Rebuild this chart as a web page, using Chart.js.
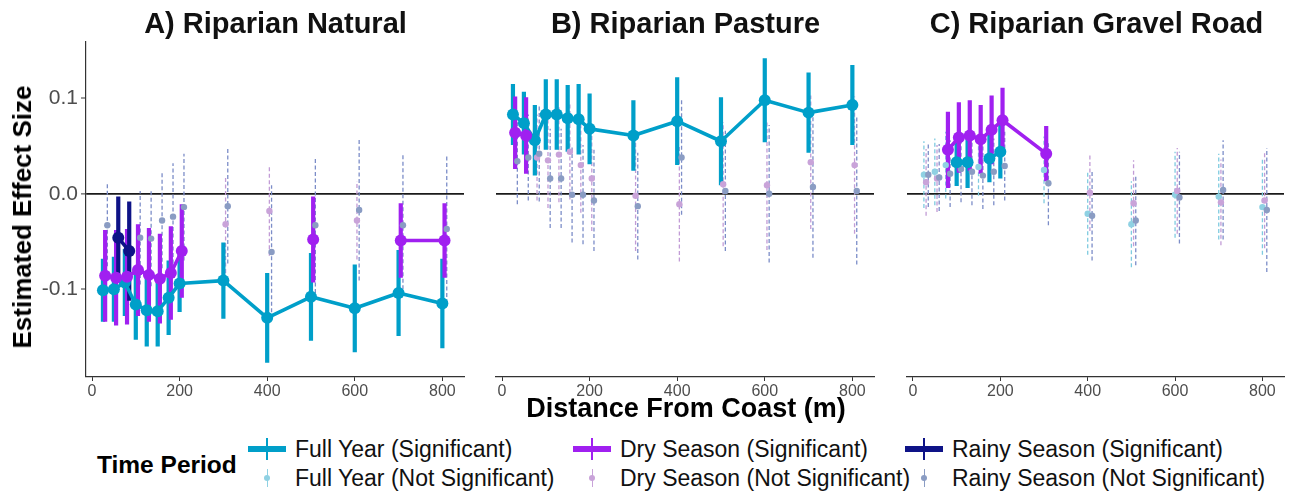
<!DOCTYPE html>
<html>
<head>
<meta charset="utf-8">
<script src="https://cdn.jsdelivr.net/npm/chart.js@4.4.1/dist/chart.umd.min.js"></script>
<style>
  html, body { margin:0; padding:0; background:#fff; }
  #wrap { position:relative; width:1290px; height:493px; background:#fff; overflow:hidden;
          font-family:'Liberation Sans', Arial, Helvetica, sans-serif; color:#000; }
  .cw { position:absolute; top:0; }
  .ptitle { position:absolute; top:9px; font-weight:bold; font-size:29px; line-height:29px; text-align:center; white-space:nowrap; color:#111; }
  #ylab { position:absolute; left:22px; top:217px; transform:translate(-50%,-50%) rotate(-90deg); font-weight:bold; font-size:26px; line-height:26px; white-space:nowrap; color:#000; }
  #xlab { position:absolute; left:386px; width:600px; top:395px; text-align:center; font-weight:bold; font-size:27px; line-height:27px; white-space:nowrap; color:#000; }
  #ltitle { position:absolute; left:97px; top:453px; font-weight:bold; font-size:24.5px; line-height:24px; white-space:nowrap; }
  .ltxt { position:absolute; font-size:23px; line-height:24px; white-space:nowrap; color:#111; }
  .lkey { position:absolute; width:38px; height:22px; }
  .lkey .h { position:absolute; left:0; width:38px; top:8px; height:5.5px; }
  .lkey .v { position:absolute; left:18.2px; width:1.6px; top:0; height:22px; }
  .lkey .d { position:absolute; border-radius:50%; }
</style>
</head>
<body>
<div id="wrap">
  <div class="cw" style="left:0;width:470px;height:400px"><canvas id="cA" width="470" height="400"></canvas></div>
  <div class="cw" style="left:470px;width:410px;height:400px"><canvas id="cB" width="410" height="400"></canvas></div>
  <div class="cw" style="left:880px;width:410px;height:400px"><canvas id="cC" width="410" height="400"></canvas></div>
  <div class="ptitle" style="left:86px;width:379px">A) Riparian Natural</div>
  <div class="ptitle" style="left:496px;width:379px">B) Riparian Pasture</div>
  <div class="ptitle" style="left:907px;width:379px">C) Riparian Gravel Road</div>
  <div id="ylab">Estimated Effect Size</div>
  <div id="xlab">Distance From Coast (m)</div>
  <div id="ltitle">Time Period</div>
  <div id="legend"></div>
</div>
<script>
// ---------------- data ----------------
const distances = [25, 50, 75, 100, 125, 150, 175, 200, 300, 400, 500, 600, 700, 800];
const xTicks = [0, 200, 400, 600, 800];
const yTicks = [-0.1, 0.0, 0.1];
const panelTitles = ["A) Riparian Natural", "B) Riparian Pasture", "C) Riparian Gravel Road"];
const periodLabels = ["Full Year", "Dry Season", "Rainy Season"];

// A) Riparian Natural
const natFullEst = [-0.101, -0.100, -0.093, -0.116, -0.122, -0.123, -0.109, -0.094, -0.091, -0.130, -0.108, -0.120, -0.104, -0.115];
const natFullCI  = [0.033, 0.034, 0.035, 0.037, 0.038, 0.037, 0.039, 0.030, 0.040, 0.047, 0.046, 0.046, 0.045, 0.047];
const natFullSig = [1, 1, 1, 1, 1, 1, 1, 1, 1, 1, 1, 1, 1, 1];
const natDryEst  = [-0.086, -0.088, -0.087, -0.080, -0.085, -0.089, -0.083, -0.060, -0.032, -0.018, -0.048, -0.028, -0.049, -0.049];
const natDryCI   = [0.048, 0.050, 0.050, 0.048, 0.049, 0.047, 0.049, 0.049, 0.051, 0.047, 0.045, 0.041, 0.039, 0.039];
const natDrySig  = [1, 1, 1, 1, 1, 1, 1, 1, 0, 0, 1, 0, 1, 1];
const natRainEst = [-0.033, -0.046, -0.060, -0.046, -0.047, -0.028, -0.024, -0.014, -0.013, -0.061, -0.033, -0.017, -0.033, -0.037];
const natRainCI  = [0.043, 0.043, 0.052, 0.049, 0.050, 0.050, 0.056, 0.056, 0.060, 0.070, 0.071, 0.074, 0.074, 0.078];
const natRainSig = [0, 1, 1, 0, 0, 0, 0, 0, 0, 0, 0, 0, 0, 0];

// B) Riparian Pasture
const pasFullEst = [0.083, 0.074, 0.056, 0.083, 0.083, 0.079, 0.078, 0.068, 0.061, 0.076, 0.055, 0.098, 0.085, 0.093];
const pasFullCI  = [0.032, 0.033, 0.037, 0.037, 0.037, 0.035, 0.037, 0.037, 0.037, 0.046, 0.046, 0.044, 0.042, 0.042];
const pasFullSig = [1, 1, 1, 1, 1, 1, 1, 1, 1, 1, 1, 1, 1, 1];
const pasDryEst  = [0.064, 0.061, 0.038, 0.035, 0.041, 0.044, 0.030, 0.016, -0.002, -0.011, 0.010, 0.009, 0.033, 0.030];
const pasDryCI   = [0.038, 0.040, 0.045, 0.050, 0.050, 0.050, 0.050, 0.055, 0.058, 0.060, 0.065, 0.068, 0.070, 0.072];
const pasDrySig  = [1, 1, 0, 0, 0, 0, 0, 0, 0, 0, 0, 0, 0, 0];
const pasRainEst = [0.034, 0.038, 0.042, 0.016, 0.016, -0.001, -0.001, -0.007, -0.013, 0.038, 0.003, 0.000, 0.007, 0.003];
const pasRainCI  = [0.045, 0.045, 0.050, 0.052, 0.052, 0.050, 0.052, 0.053, 0.056, 0.060, 0.063, 0.072, 0.074, 0.077];
const pasRainSig = [0, 0, 0, 0, 0, 0, 0, 0, 0, 0, 0, 0, 0, 0];

// C) Riparian Gravel Road
const grvFullEst = [0.020, 0.023, 0.030, 0.033, 0.033, 0.028, 0.037, 0.044, 0.025, -0.021, -0.032, -0.001, -0.003, -0.014];
const grvFullCI  = [0.035, 0.035, 0.035, 0.025, 0.027, 0.030, 0.025, 0.028, 0.035, 0.043, 0.045, 0.045, 0.045, 0.050];
const grvFullSig = [0, 0, 0, 1, 1, 0, 1, 1, 0, 0, 0, 0, 0, 0];
const grvDryEst  = [0.012, 0.016, 0.046, 0.059, 0.061, 0.057, 0.067, 0.077, 0.042, 0.001, -0.010, 0.003, -0.009, -0.007];
const grvDryCI   = [0.035, 0.035, 0.040, 0.037, 0.037, 0.036, 0.036, 0.034, 0.029, 0.040, 0.045, 0.045, 0.045, 0.050];
const grvDrySig  = [0, 0, 1, 1, 1, 1, 1, 1, 1, 0, 0, 0, 0, 0];
const grvRainEst = [0.020, 0.017, 0.021, 0.026, 0.023, 0.019, 0.023, 0.029, 0.011, -0.023, -0.028, -0.004, 0.004, -0.017];
const grvRainCI  = [0.034, 0.035, 0.035, 0.035, 0.035, 0.035, 0.035, 0.036, 0.044, 0.047, 0.047, 0.048, 0.052, 0.065];
const grvRainSig = [0, 0, 0, 0, 0, 0, 0, 0, 0, 0, 0, 0, 0, 0];

// ---------------- styling ----------------
const FONT = "'Liberation Sans', Arial, Helvetica, sans-serif";
const styles = [
  { sig: '#009FC9', nsDot: '#8FD1E3', nsDash: '#7FCBE0', dodge: 0 },
  { sig: '#A020F0', nsDot: '#C9A3D9', nsDash: '#C29CD6', dodge: 5 },
  { sig: '#0E1387', nsDot: '#8A9CC3', nsDash: '#7C8DC8', dodge: 10 }
];

function errSegs(est, ci, sig, wantSig, off) {
  const out = [];
  distances.forEach((d, i) => {
    if ((sig[i] === 1) === wantSig) {
      out.push({ x: d + off, y: est[i] - ci[i] }, { x: d + off, y: est[i] + ci[i] }, { x: d + off, y: null });
    }
  });
  return out;
}
function pts(est, sig, wantSig, off) {
  return distances.map((d, i) => ({ x: d + off, y: ((sig[i] === 1) === wantSig) ? est[i] : null }));
}

function buildDatasets(series) {
  const ds = [];
  series.forEach((s, k) => {
    const st = styles[k];
    ds.push({ data: errSegs(s.est, s.ci, s.sig, false, st.dodge), borderColor: st.nsDash, borderWidth: 1.3,
      borderDash: [4, 2.5], pointRadius: 0, spanGaps: false, order: 100 + k, borderCapStyle: 'butt' });
    ds.push({ data: errSegs(s.est, s.ci, s.sig, true, st.dodge), borderColor: st.sig, borderWidth: 4.2,
      pointRadius: 0, spanGaps: false, order: 90 - k, borderCapStyle: 'butt' });
    ds.push({ data: pts(s.est, s.sig, false, st.dodge), showLine: false, pointRadius: 3.2,
      pointBackgroundColor: st.nsDot, pointBorderWidth: 0, order: 60 - k });
    ds.push({ data: pts(s.est, s.sig, true, st.dodge), borderColor: st.sig, borderWidth: 3.6,
      pointRadius: 6, pointBackgroundColor: st.sig, pointBorderWidth: 0, spanGaps: false,
      borderJoinStyle: 'round', order: 40 - k });
  });
  return ds;
}

function makeChart(id, series, showY, pad) {
  return new Chart(document.getElementById(id), {
    type: 'line',
    data: { datasets: buildDatasets(series) },
    options: {
      responsive: false, animation: false, devicePixelRatio: 1, events: [],
      layout: { padding: pad },
      plugins: { legend: { display: false }, tooltip: { enabled: false }, title: { display: false } },
      scales: {
        x: {
          type: 'linear', min: -13.7, max: 849.4,
          afterBuildTicks: s => { s.ticks = xTicks.map(v => ({ value: v })); },
          afterFit: s => { s.height = 23; },
          ticks: { font: { size: 16, family: FONT }, color: '#4D4D4D', padding: 1, maxRotation: 0, autoSkip: false },
          grid: { display: true, drawOnChartArea: false, drawTicks: true, tickLength: 4, tickColor: '#333', tickWidth: 1 },
          border: { display: true, color: '#333', width: 1.2 }
        },
        y: {
          type: 'linear', min: -0.192, max: 0.159,
          afterBuildTicks: s => { s.ticks = yTicks.map(v => ({ value: v })); },
          afterFit: s => { s.width = showY ? 46 : 0; },
          ticks: { display: showY, font: { size: 21, family: FONT }, color: '#4D4D4D', padding: 3,
                   callback: v => (Math.abs(v) < 1e-9 ? '0.0' : v.toFixed(1)) },
          grid: {
            display: true, drawOnChartArea: true, drawTicks: showY, tickLength: 5, tickColor: '#333', tickWidth: 1,
            color: c => (c.tick && Math.abs(c.tick.value) < 1e-9) ? '#1A1A1A' : 'rgba(0,0,0,0)',
            lineWidth: c => (c.tick && Math.abs(c.tick.value) < 1e-9) ? 1.8 : 0
          },
          border: { display: showY, color: '#333', width: 1.2 }
        }
      }
    }
  });
}

makeChart('cA', [
  { est: natFullEst, ci: natFullCI, sig: natFullSig },
  { est: natDryEst, ci: natDryCI, sig: natDrySig },
  { est: natRainEst, ci: natRainCI, sig: natRainSig }
], true, { left: 40, right: 5, top: 42, bottom: 0 });
makeChart('cB', [
  { est: pasFullEst, ci: pasFullCI, sig: pasFullSig },
  { est: pasDryEst, ci: pasDryCI, sig: pasDrySig },
  { est: pasRainEst, ci: pasRainCI, sig: pasRainSig }
], false, { left: 26, right: 5, top: 42, bottom: 0 });
makeChart('cC', [
  { est: grvFullEst, ci: grvFullCI, sig: grvFullSig },
  { est: grvDryEst, ci: grvDryCI, sig: grvDrySig },
  { est: grvRainEst, ci: grvRainCI, sig: grvRainSig }
], false, { left: 27, right: 4, top: 42, bottom: 0 });

// ---------------- legend ----------------
const legendCols = [248, 573, 905];
const legendRows = [449, 478];
const wrap = document.getElementById('wrap');
periodLabels.forEach((lab, k) => {
  const st = styles[k];
  [true, false].forEach((isSig, r) => {
    const cy = legendRows[r];
    const key = document.createElement('div');
    key.className = 'lkey';
    key.style.left = legendCols[k] + 'px';
    key.style.top = (cy - 11) + 'px';
    if (isSig) {
      key.innerHTML = `<div class="h" style="background:${st.sig}"></div><div class="v" style="background:${st.sig}"></div>` +
        `<div class="d" style="background:${st.sig};left:17px;top:8.5px;width:4px;height:4px"></div>`;
    } else {
      key.innerHTML = `<div class="v" style="background:${st.nsDot};left:18.5px;width:1px;top:2px;height:18px"></div>` +
        `<div class="d" style="background:${st.nsDot};left:16px;top:8px;width:6px;height:6px"></div>`;
    }
    wrap.appendChild(key);
    const t = document.createElement('div');
    t.className = 'ltxt';
    t.style.left = (legendCols[k] + 47) + 'px';
    t.style.top = (cy - 12) + 'px';
    t.textContent = lab + (isSig ? ' (Significant)' : ' (Not Significant)');
    wrap.appendChild(t);
  });
});
</script>
</body>
</html>
